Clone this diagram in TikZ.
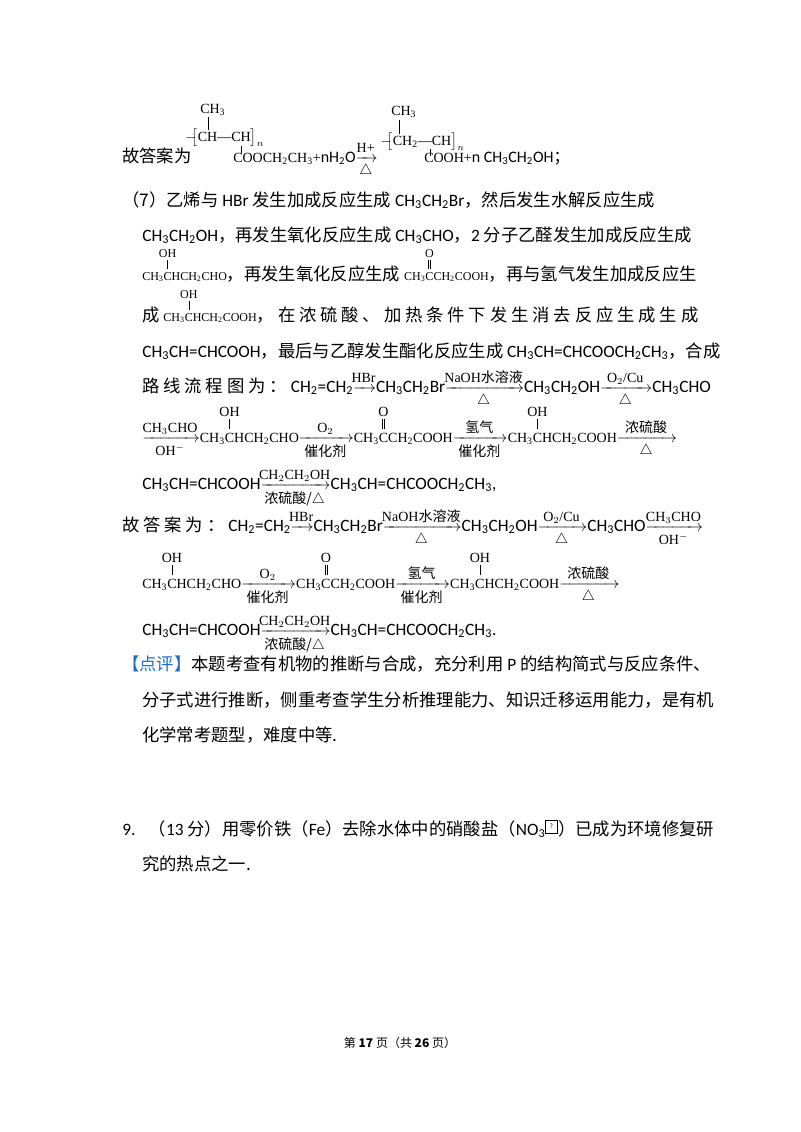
\documentclass[tikz,border=0pt]{standalone}
\usepackage{fontspec}
\usepackage{amsmath}
\setmainfont{Carlito}
\newfontfamily\cn{Noto Sans CJK SC}
\newfontfamily\chs{Liberation Serif}
\newcommand\sbs[1]{\textsubscript{#1}}
\newcommand\chem[1]{{\chs\fontsize{10.5}{11}\selectfont #1}}
\newcommand\chemS[1]{{\chs\fontsize{9}{10}\selectfont #1}}
\newcommand\brn[2]{\setbox0\hbox{#1}\rlap{\hbox to\wd0{\hss\raisebox{0.95em}{\rule{.4pt}{.7em}}\hss}}\rlap{\hbox to\wd0{\hss\raisebox{1.85em}{\makebox[0pt]{#2}}\hss}}#1}
\newcommand\dbr[2]{\setbox0\hbox{#1}\rlap{\hbox to\wd0{\hss\raisebox{0.95em}{\rule{.4pt}{.7em}\hspace{1.2pt}\rule{.4pt}{.7em}}\hss}}\rlap{\hbox to\wd0{\hss\raisebox{1.85em}{\makebox[0pt]{#2}}\hss}}#1}
\newcommand\arr[3]{$\xrightarrow[\text{\chem{#3}}]{\text{\makebox[#1]{\chem{#2}}}}$}
\tikzset{ln/.style={anchor=base west,inner sep=0pt,font=\fontsize{13}{15}\selectfont}}
\begin{document}
\begin{tikzpicture}[x=0.75pt,y=-0.75pt]
\useasboundingbox[fill=white] (0,0) rectangle (800,1132);
% top equation
\node[ln] (l0) at (122,162) {\cn 故答案为};
\node[ln] (p1) at (185,141) {\chem{$-\!\!\big[$CH—CH$\big]_n$}};
\node[ln] (p1a) at (200,113) {\chem{CH\sbs3}};
\draw (208,117) -- (208,130);
\node[ln] (p1b) at (233,162) {\chem{COOCH\sbs2CH\sbs3+}\fontsize{12}{14}\selectfont nH\sbs2O\arr{9pt}{H+}{$\triangle$}};
\draw (241,146) -- (241,153);
\node[ln] (p2) at (380,145) {\chem{$-\!\!\big[$CH\sbs2—CH$\big]_n$}};
\node[ln] (p2a) at (391,115) {\chem{CH\sbs3}};
\draw (399,120) -- (399,134);
\node[ln] (p2b) at (424,162) {\chem{COOH+}\fontsize{12}{14}\selectfont n CH\sbs3CH\sbs2OH\cn；};
\draw (430,149) -- (430,156);
% paragraph (7)
\node[ln] (l1) at (122,206) {\cn （7）乙烯与 \rm HBr \cn 发生加成反应生成 \rm CH\sbs3CH\sbs2Br\cn ，然后发生水解反应生成};
\node[ln] (l2) at (142,241) {CH\sbs3CH\sbs2OH\cn ，再发生氧化反应生成 \rm CH\sbs3CHO\cn ，\rm 2 \cn 分子乙醛发生加成反应生成};
\node[ln] (l3) at (142,280) {\chemS{CH\sbs3\brn{C}{OH}HCH\sbs2CHO}\cn ，再发生氧化反应生成 \chemS{CH\sbs3\dbr{C}{O}CH\sbs2COOH}\cn ，再与氢气发生加成反应生};
\node[ln] (l4) at (142,321) {\cn 成 \chemS{CH\sbs3\brn{C}{OH}HCH\sbs2COOH}\cn ， 在 浓 硫 酸 、 加 热 条 件 下 发 生 消 去 反 应 生 成 生 成};
\node[ln] (l5) at (142,357) {CH\sbs3CH=CHCOOH\cn ，最后与乙醇发生酯化反应生成 \rm CH\sbs3CH=CHCOOCH\sbs2CH\sbs3\cn ，合成};
\node[ln] (l6) at (142,392) {\cn 路 线 流 程 图 为 ： \rm CH\sbs2=CH\sbs2\arr{10pt}{HBr}{}CH\sbs3CH\sbs2Br\arr{52pt}{NaOH\cn 水溶液}{$\triangle$}CH\sbs3CH\sbs2OH\arr{32pt}{O$_2$/Cu}{$\triangle$}CH\sbs3CHO};
\node[ln] (l7) at (142,442) {\arr{36pt}{CH$_3$CHO}{OH$^-$}\chem{CH\sbs3\brn{C}{OH}HCH\sbs2CHO}\arr{34pt}{O$_2$}{\cn 催化剂}\chem{CH\sbs3\dbr{C}{O}CH\sbs2COOH}\arr{34pt}{\cn 氢气}{\cn 催化剂}\chem{CH\sbs3\brn{C}{OH}HCH\sbs2COOH}\arr{38pt}{\cn 浓硫酸}{$\triangle$}};
\node[ln] (l8) at (142,489) {CH\sbs3CH=CHCOOH\arr{44pt}{CH$_2$CH$_2$OH}{\cn 浓硫酸/$\triangle$}CH\sbs3CH=CHCOOCH\sbs2CH\sbs3,};
\node[ln] (l9) at (122,531) {\cn 故 答 案 为 ： \rm CH\sbs2=CH\sbs2\arr{10pt}{HBr}{}CH\sbs3CH\sbs2Br\arr{52pt}{NaOH\cn 水溶液}{$\triangle$}CH\sbs3CH\sbs2OH\arr{30pt}{O$_2$/Cu}{$\triangle$}CH\sbs3CHO\arr{36pt}{CH$_3$CHO}{OH$^-$}};
\node[ln] (l10) at (142,588) {\chem{CH\sbs3\brn{C}{OH}HCH\sbs2CHO}\arr{34pt}{O$_2$}{\cn 催化剂}\chem{CH\sbs3\dbr{C}{O}CH\sbs2COOH}\arr{34pt}{\cn 氢气}{\cn 催化剂}\chem{CH\sbs3\brn{C}{OH}HCH\sbs2COOH}\arr{38pt}{\cn 浓硫酸}{$\triangle$}};
\node[ln] (l11) at (142,635) {CH\sbs3CH=CHCOOH\arr{44pt}{CH$_2$CH$_2$OH}{\cn 浓硫酸/$\triangle$}CH\sbs3CH=CHCOOCH\sbs2CH\sbs3.};
\node[ln] (l12) at (122,670) {\cn \textcolor[HTML]{1F6FC0}{【点评】}本题考查有机物的推断与合成，充分利用 \rm P \cn 的结构简式与反应条件、};
\node[ln] (l13) at (142,706) {\cn 分子式进行推断，侧重考查学生分析推理能力、知识迁移运用能力，是有机};
\node[ln] (l14) at (142,741) {\cn 化学常考题型，难度中等.};
\node[ln] (l15) at (122,835) {9.\hspace{10pt}\cn （\rm 13 \cn 分）用零价铁（\rm Fe\cn ）去除水体中的硝酸盐（\rm NO\sbs3\textsuperscript{\fbox{\tiny ?}}\cn ）已成为环境修复研};
\node[ln] (l16) at (142,870) {\cn 究的热点之一.};
\node[anchor=base,inner sep=0pt,font=\fontsize{9}{10}\selectfont] (ft) at (400,1047) {\cn 第 \bfseries 17 \mdseries 页（共 \bfseries 26 \mdseries 页）};
\end{tikzpicture}
\end{document}
